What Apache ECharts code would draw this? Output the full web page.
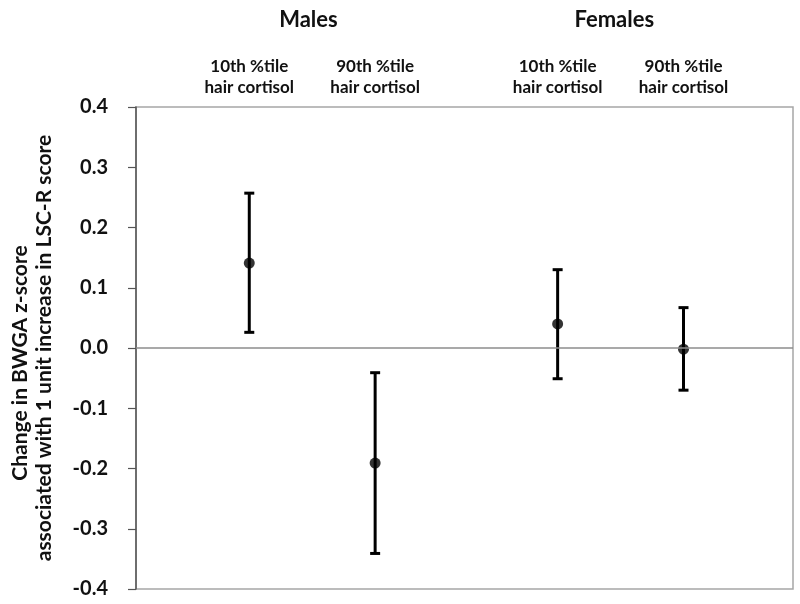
<!DOCTYPE html>
<html>
<head>
<meta charset="utf-8">
<script src="https://cdn.jsdelivr.net/npm/echarts@6/dist/echarts.min.js"></script>
<style>html,body{margin:0;padding:0;background:#fff}#c{width:800px;height:604px}</style>
</head>
<body>
<div id="c"></div>
<script>
// Data
const categories = ['10th %tile\nhair cortisol', '90th %tile\nhair cortisol', '10th %tile\nhair cortisol', '90th %tile\nhair cortisol'];
const slots = [1, 2, 3.45, 4.45];
const groups = ['Males', 'Females'];
const groupSlots = [1.47, 3.9];
const means = [0.141, -0.191, 0.040, -0.002];
const lower = [0.026, -0.341, -0.051, -0.070];
const upper = [0.257, -0.041, 0.130, 0.067];
const yTicks = [-0.4, -0.3, -0.2, -0.1, 0.0, 0.1, 0.2, 0.3, 0.4];
const yTitle = ['Change in BWGA z-score', 'associated with 1 unit increase in LSC-R score'];

const FONT = 'Lato';
const chart = echarts.init(document.getElementById('c'));
const errData = slots.map((x, i) => [x, lower[i], upper[i]]);
const ptData = slots.map((x, i) => [x, means[i]]);
const nameStyle = { fontFamily: FONT, fontWeight: 'bold', fontSize: 21, color: '#111', lineHeight: 24 };

chart.setOption({
  animation: false,
  backgroundColor: '#fff',
  grid: { left: 128, right: 7, top: 107, bottom: 15, show: true, borderColor: '#a6a6a6', borderWidth: 1.5, backgroundColor: 'transparent' },
  xAxis: [{
    type: 'value', position: 'top', min: 0.1, max: 5.32,
    axisLine: { show: false }, axisTick: { show: false }, splitLine: { show: false },
    axisLabel: {
      customValues: slots,
      formatter: v => { const i = slots.indexOf(v); return i >= 0 ? categories[i] : ''; },
      margin: 9, fontFamily: FONT, fontWeight: 'bold', fontSize: 17, color: '#111', lineHeight: 21, align: 'center'
    }
  }, {
    type: 'value', position: 'top', min: 0.1, max: 5.32, offset: 76,
    axisLine: { show: false }, axisTick: { show: false }, splitLine: { show: false },
    axisLabel: {
      customValues: groupSlots,
      formatter: v => { const i = groupSlots.indexOf(v); return i >= 0 ? groups[i] : ''; },
      margin: 0, fontFamily: FONT, fontWeight: 'bold', fontSize: 22, color: '#111'
    }
  }],
  yAxis: {
    type: 'value', min: -0.4, max: 0.4, interval: 0.1,
    axisLine: { show: true, lineStyle: { color: '#555', width: 1.5 } },
    axisTick: { show: true, length: 8, lineStyle: { color: '#555', width: 1.2 } },
    splitLine: { show: false },
    axisLabel: { margin: 28, fontFamily: FONT, fontWeight: 'bold', fontSize: 20, color: '#111',
      formatter: v => { const t = yTicks.find(t => Math.abs(t - v) < 1e-9); return (t === undefined ? v : t).toFixed(1); } },
    name: '{a|' + yTitle[0] + '}\n{b|' + yTitle[1] + '}',
    nameLocation: 'middle', nameGap: 80, nameRotate: 90,
    nameTextStyle: Object.assign({}, nameStyle, {
      rich: { a: Object.assign({}, nameStyle, { padding: [0, 30, 0, 0] }), b: Object.assign({}, nameStyle) }
    })
  },
  series: [{
    type: 'custom',
    data: errData,
    renderItem: (params, api) => {
      const x = api.value(0);
      const lo = api.coord([x, api.value(1)]);
      const hi = api.coord([x, api.value(2)]);
      const cap = 5;
      const style = { stroke: '#000', lineWidth: 3 };
      return { type: 'group', children: [
        { type: 'line', shape: { x1: lo[0], y1: lo[1], x2: hi[0], y2: hi[1] }, style },
        { type: 'line', shape: { x1: lo[0] - cap, y1: lo[1], x2: lo[0] + cap, y2: lo[1] }, style },
        { type: 'line', shape: { x1: hi[0] - cap, y1: hi[1], x2: hi[0] + cap, y2: hi[1] }, style }
      ]};
    },
    markLine: { silent: true, symbol: 'none', label: { show: false },
      lineStyle: { color: '#8c8c8c', width: 1.5, type: 'solid' }, data: [{ yAxis: 0 }] },
    z: 2
  }, {
    type: 'scatter', data: ptData, symbol: 'circle', symbolSize: 11,
    itemStyle: { color: '#000' }, z: 3
  }]
});
</script>
</body>
</html>
